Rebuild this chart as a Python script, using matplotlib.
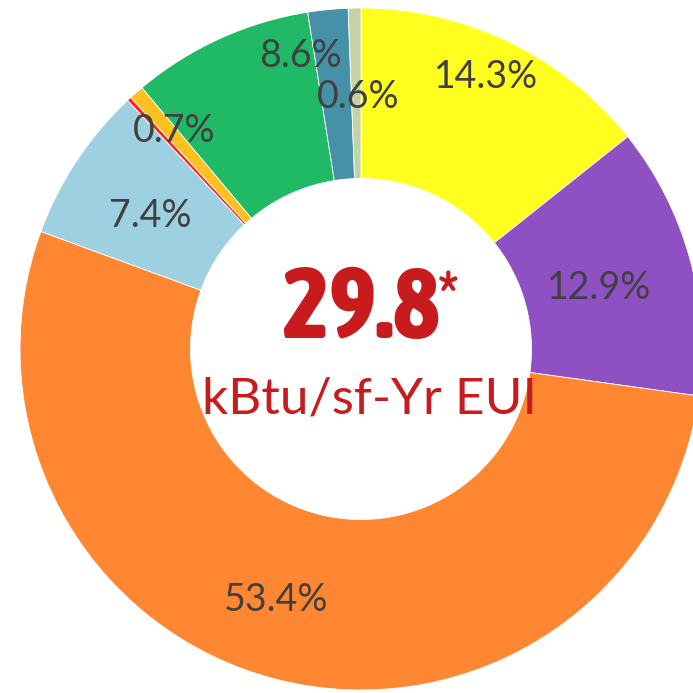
import matplotlib
matplotlib.use("Agg")
import matplotlib.pyplot as plt
from matplotlib import font_manager as fm

categories = ["Cat A", "Cat B", "Cat C", "Cat D", "Cat E", "Cat F", "Cat G", "Cat H", "Cat I"]
values = [14.3, 12.9, 53.4, 7.4, 0.2, 0.7, 8.6, 1.9, 0.6]
show_label = [True, True, True, True, False, True, True, False, True]
colors = ["#FFFF1F", "#8F50C4", "#FF8731", "#9DD0E0", "#FF2020",
          "#FFC020", "#20BA67", "#4690A8", "#C3D3A5"]
center_value = "29.8"
center_unit = "kBtu/sf-Yr EUI"

# label placement (layout), data coords with pie centre at (0,0), radius 1
label_pos = {0: (0.367, 0.799), 1: (0.698, 0.179), 2: (-0.249, -0.736),
             3: (-0.619, 0.390), 5: (-0.548, 0.639), 6: (-0.179, 0.859),
             8: (-0.009, 0.739)}

names = {f.name for f in fm.fontManager.ttflist}
lab_font = "Lato" if "Lato" in names else "DejaVu Sans"


def pick_condensed_bold():
    best = None
    best_score = -1
    for f in fm.fontManager.ttflist:
        nm = f.name.lower()
        st = str(f.stretch).lower()
        fn = f.fname.lower()
        w = f.weight if isinstance(f.weight, int) else {"bold": 700, "normal": 400}.get(str(f.weight), 400)
        if "italic" in fn or f.style != "normal":
            continue
        if "mono" in nm or "serif" in nm and "sans" not in nm:
            continue
        score = 0
        if "narrow" in nm or "narrow" in fn:
            score = 10
        elif st == "condensed" or ("condensed" in fn and "semi" not in fn and "extra" not in fn and "ultra" not in fn):
            score = 9
        elif st == "extra-condensed" or "extracondensed" in fn:
            score = 7
        elif st == "semi-condensed" or "semicondensed" in fn:
            score = 6
        else:
            continue
        if 780 <= w <= 850:
            score += 4
        elif 650 <= w < 780:
            score += 3
        elif w > 850:
            score += 2
        if "cjk" in nm:
            score -= 5
        if score > best_score:
            best_score, best = score, f
    if best is None:
        return fm.FontProperties(family="DejaVu Sans", weight="bold")
    return fm.FontProperties(fname=best.fname)


big_fp = pick_condensed_bold()

fig = plt.figure(figsize=(6.93, 6.93), dpi=100)
ax = fig.add_axes([0, 0, 1, 1])
ax.pie(values, colors=colors, startangle=90, counterclock=False, radius=1.0,
       wedgeprops=dict(width=0.5, edgecolor="white", linewidth=0.6))
ax.set_xlim(-361 / 341, (693 - 361) / 341)
ax.set_ylim(-(693 - 349) / 341, 349 / 341)
ax.set_aspect("equal")
ax.axis("off")

for i, v in enumerate(values):
    if show_label[i]:
        x, y = label_pos[i]
        ax.text(x, y, f"{v:.1f}%", ha="center", va="center", fontsize=27,
                color="#404040", family=lab_font)

red = "#C81B1E"
fp_num = big_fp.copy()
fp_num.set_size(71)
t = ax.text(0.0, 0.032, center_value, ha="center", va="baseline",
            color=red, fontproperties=fp_num)
fig.canvas.draw()
bb = t.get_window_extent()
inv = ax.transData.inverted()
x_right = inv.transform((bb.x1, bb.y1))[0]
fp_ast = big_fp.copy()
fp_ast.set_size(50)
ax.text(x_right - 0.005, 0.240, "*", ha="left", va="top",
        color=red, fontproperties=fp_ast)
ax.text(0.026, -0.188, center_unit, ha="center", va="baseline", fontsize=37,
        color=red, family=lab_font)

fig.savefig("out.png", dpi=100)
